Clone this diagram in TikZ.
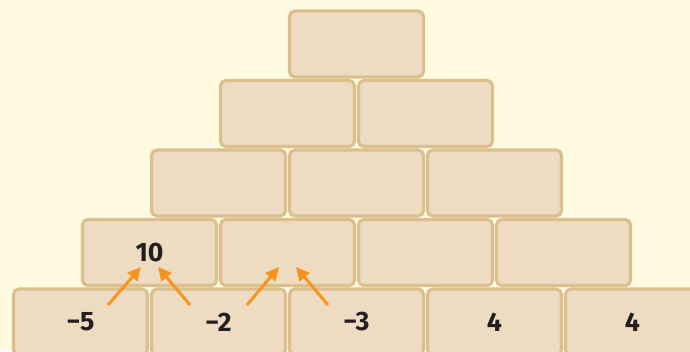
\documentclass[tikz,border=0pt]{standalone}
\usepackage{fontspec}
\setmainfont{Fira Sans}
\usetikzlibrary{arrows.meta}
\definecolor{bg}{HTML}{FFFBE0}
\definecolor{brickfill}{HTML}{EDDBC2}
\definecolor{brickline}{HTML}{DBC08E}
\definecolor{arrowc}{HTML}{F7941D}
\definecolor{txt}{HTML}{231F20}
\begin{document}
\begin{tikzpicture}[x=0.75pt,y=-0.75pt,
  brick/.style={draw=brickline,fill=brickfill,line width=2.3pt,rounded corners=4pt,
    minimum width=100.5pt,minimum height=49.5pt,inner sep=0pt,
    font=\fontsize{20}{22}\selectfont\bfseries,text=txt},
  hint/.style={draw=arrowc,line width=2.2pt,-{Triangle[length=10pt,width=9.5pt]}}]
\fill[bg] (0,0) rectangle (690,351);
\useasboundingbox (0,0) rectangle (690,351);
% row 0
\node[brick] (b00) at (356.5,44) {};
% row 1
\node[brick] (b10) at (287.5,113.5) {};
\node[brick] (b11) at (425.5,113.5) {};
% row 2
\node[brick] (b20) at (218.5,183) {};
\node[brick] (b21) at (356.5,183) {};
\node[brick] (b22) at (494.5,183) {};
% row 3
\node[brick] (b30) at (149.5,252.5) {10};
\node[brick] (b31) at (287.5,252.5) {};
\node[brick] (b32) at (425.5,252.5) {};
\node[brick] (b33) at (563.5,252.5) {};
% row 4
\node[brick] (b40) at (80.5,322) {−5};
\node[brick] (b41) at (218.5,322) {−2};
\node[brick] (b42) at (356.5,322) {−3};
\node[brick] (b43) at (494.5,322) {4};
\node[brick] (b44) at (632.5,322) {4};
% arrows
\coordinate (t1) at (108,305); \coordinate (h1) at (141,267);
\coordinate (t2) at (190,305); \coordinate (h2) at (158,267);
\coordinate (t3) at (247,305); \coordinate (h3) at (279,267);
\coordinate (t4) at (328,305); \coordinate (h4) at (296,267);
\draw[hint] (t1) -- (h1);
\draw[hint] (t2) -- (h2);
\draw[hint] (t3) -- (h3);
\draw[hint] (t4) -- (h4);
\end{tikzpicture}
\end{document}
